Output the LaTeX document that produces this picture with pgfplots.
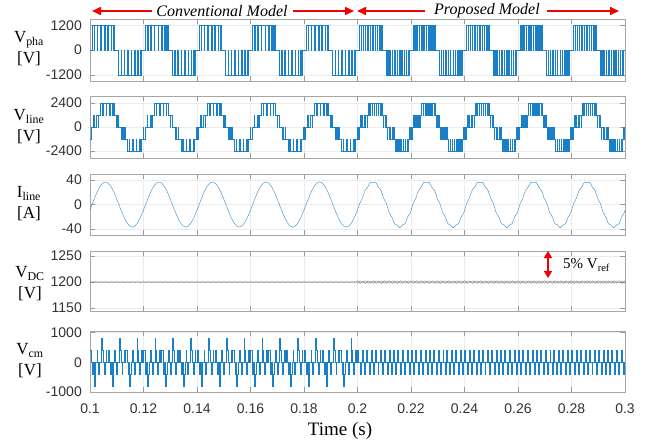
\documentclass[border=0pt]{standalone}
\usepackage{fontspec}
\setmainfont{Liberation Serif}
\newfontfamily\ticksf{Liberation Sans}
\usepackage{pgfplots}
\pgfplotsset{compat=1.18}
\usetikzlibrary{arrows.meta}
\definecolor{mblue}{rgb}{0.1,0.5,0.78}
\definecolor{morange}{rgb}{0.88,0.45,0.3}
\definecolor{arrred}{RGB}{240,0,0}

\pgfplotsset{panel/.style={
    scale only axis, width=535pt, anchor=north west,
    xmin=0.1, xmax=0.3,
    xtick={0.1,0.12,0.14,0.16,0.18,0.2,0.22,0.24,0.26,0.28,0.3},
    xticklabels={},
    grid=major, major grid style={black!8, line width=0.5pt},
    axis line style={black!35, line width=0.6pt},
    tick style={black!40, line width=0.6pt},
    tick align=inside, major tick length=5pt,
    yticklabel style={font=\ticksf\fontsize{14}{14}\selectfont, text=black!80, inner sep=0pt, xshift=-8pt},
    xticklabel style={font=\ticksf\fontsize{14}{14}\selectfont, text=black!80, inner sep=0pt, yshift=-12pt},
    every axis plot/.append style={line width=0.35pt},
}}

\begin{document}
\begin{tikzpicture}
\useasboundingbox (0,0) rectangle (649pt,-445pt);

% ---------- V_pha ----------
\begin{axis}[panel, at={(90pt,-19pt)}, height=62pt,
    ymin=-1500, ymax=1500, ytick={-1200,0,1200}, yticklabels={-1200,0,1200}]
\addplot[mblue, const plot] coordinates {
(0.1000,0)
(0.1007,1200) (0.1015,0) (0.1017,1200) (0.1026,0) (0.1028,1200) (0.1039,0) (0.1041,1200) (0.1053,0) (0.1055,1200) (0.1066,0) (0.1068,1200) (0.1078,0) (0.1080,1200) (0.1086,0) (0.1088,1200) (0.1092,0)
(0.1107,-1200) (0.1115,0) (0.1117,-1200) (0.1126,0) (0.1128,-1200) (0.1139,0) (0.1141,-1200) (0.1153,0) (0.1155,-1200) (0.1166,0) (0.1168,-1200) (0.1178,0) (0.1180,-1200) (0.1186,0) (0.1188,-1200) (0.1192,0)
(0.1207,1200) (0.1215,0) (0.1217,1200) (0.1226,0) (0.1228,1200) (0.1239,0) (0.1241,1200) (0.1253,0) (0.1255,1200) (0.1266,0) (0.1268,1200) (0.1278,0) (0.1280,1200) (0.1286,0) (0.1288,1200) (0.1292,0)
(0.1307,-1200) (0.1315,0) (0.1317,-1200) (0.1326,0) (0.1328,-1200) (0.1339,0) (0.1341,-1200) (0.1353,0) (0.1355,-1200) (0.1366,0) (0.1368,-1200) (0.1378,0) (0.1380,-1200) (0.1386,0) (0.1388,-1200) (0.1392,0)
(0.1407,1200) (0.1415,0) (0.1417,1200) (0.1426,0) (0.1428,1200) (0.1439,0) (0.1441,1200) (0.1453,0) (0.1455,1200) (0.1466,0) (0.1468,1200) (0.1478,0) (0.1480,1200) (0.1486,0) (0.1488,1200) (0.1492,0)
(0.1507,-1200) (0.1515,0) (0.1517,-1200) (0.1526,0) (0.1528,-1200) (0.1539,0) (0.1541,-1200) (0.1553,0) (0.1555,-1200) (0.1566,0) (0.1568,-1200) (0.1578,0) (0.1580,-1200) (0.1586,0) (0.1588,-1200) (0.1592,0)
(0.1607,1200) (0.1615,0) (0.1617,1200) (0.1626,0) (0.1628,1200) (0.1639,0) (0.1641,1200) (0.1653,0) (0.1655,1200) (0.1666,0) (0.1668,1200) (0.1678,0) (0.1680,1200) (0.1686,0) (0.1688,1200) (0.1692,0)
(0.1707,-1200) (0.1715,0) (0.1717,-1200) (0.1726,0) (0.1728,-1200) (0.1739,0) (0.1741,-1200) (0.1753,0) (0.1755,-1200) (0.1766,0) (0.1768,-1200) (0.1778,0) (0.1780,-1200) (0.1786,0) (0.1788,-1200) (0.1792,0)
(0.1807,1200) (0.1815,0) (0.1817,1200) (0.1826,0) (0.1828,1200) (0.1839,0) (0.1841,1200) (0.1853,0) (0.1855,1200) (0.1866,0) (0.1868,1200) (0.1878,0) (0.1880,1200) (0.1886,0) (0.1888,1200) (0.1892,0)
(0.1907,-1200) (0.1915,0) (0.1917,-1200) (0.1926,0) (0.1928,-1200) (0.1939,0) (0.1941,-1200) (0.1953,0) (0.1955,-1200) (0.1966,0) (0.1968,-1200) (0.1978,0) (0.1980,-1200) (0.1986,0) (0.1988,-1200) (0.1992,0)
(0.2007,1200) (0.2012,0) (0.2014,1200) (0.2020,0) (0.2022,1200) (0.2029,0) (0.2030,1200) (0.2038,0) (0.2040,1200) (0.2047,0) (0.2048,1200) (0.2056,0) (0.2058,1200) (0.2065,0) (0.2067,1200) (0.2073,0) (0.2075,1200) (0.2081,0) (0.2083,1200) (0.2088,0) (0.2089,1200) (0.2092,0)
(0.2107,-1200) (0.2112,0) (0.2114,-1200) (0.2120,0) (0.2122,-1200) (0.2129,0) (0.2130,-1200) (0.2138,0) (0.2140,-1200) (0.2147,0) (0.2148,-1200) (0.2156,0) (0.2158,-1200) (0.2165,0) (0.2167,-1200) (0.2173,0) (0.2175,-1200) (0.2181,0) (0.2183,-1200) (0.2188,0) (0.2189,-1200) (0.2192,0)
(0.2207,1200) (0.2212,0) (0.2214,1200) (0.2220,0) (0.2222,1200) (0.2229,0) (0.2230,1200) (0.2238,0) (0.2240,1200) (0.2247,0) (0.2248,1200) (0.2256,0) (0.2258,1200) (0.2265,0) (0.2267,1200) (0.2273,0) (0.2275,1200) (0.2281,0) (0.2283,1200) (0.2288,0) (0.2289,1200) (0.2292,0)
(0.2307,-1200) (0.2312,0) (0.2314,-1200) (0.2320,0) (0.2322,-1200) (0.2329,0) (0.2330,-1200) (0.2338,0) (0.2340,-1200) (0.2347,0) (0.2348,-1200) (0.2356,0) (0.2358,-1200) (0.2365,0) (0.2367,-1200) (0.2373,0) (0.2375,-1200) (0.2381,0) (0.2383,-1200) (0.2388,0) (0.2389,-1200) (0.2392,0)
(0.2407,1200) (0.2412,0) (0.2414,1200) (0.2420,0) (0.2422,1200) (0.2429,0) (0.2430,1200) (0.2438,0) (0.2440,1200) (0.2447,0) (0.2448,1200) (0.2456,0) (0.2458,1200) (0.2465,0) (0.2467,1200) (0.2473,0) (0.2475,1200) (0.2481,0) (0.2483,1200) (0.2488,0) (0.2489,1200) (0.2492,0)
(0.2507,-1200) (0.2512,0) (0.2514,-1200) (0.2520,0) (0.2522,-1200) (0.2529,0) (0.2530,-1200) (0.2538,0) (0.2540,-1200) (0.2547,0) (0.2548,-1200) (0.2556,0) (0.2558,-1200) (0.2565,0) (0.2567,-1200) (0.2573,0) (0.2575,-1200) (0.2581,0) (0.2583,-1200) (0.2588,0) (0.2589,-1200) (0.2592,0)
(0.2607,1200) (0.2612,0) (0.2614,1200) (0.2620,0) (0.2622,1200) (0.2629,0) (0.2630,1200) (0.2638,0) (0.2640,1200) (0.2647,0) (0.2648,1200) (0.2656,0) (0.2658,1200) (0.2665,0) (0.2667,1200) (0.2673,0) (0.2675,1200) (0.2681,0) (0.2683,1200) (0.2688,0) (0.2689,1200) (0.2692,0)
(0.2707,-1200) (0.2712,0) (0.2714,-1200) (0.2720,0) (0.2722,-1200) (0.2729,0) (0.2730,-1200) (0.2738,0) (0.2740,-1200) (0.2747,0) (0.2748,-1200) (0.2756,0) (0.2758,-1200) (0.2765,0) (0.2767,-1200) (0.2773,0) (0.2775,-1200) (0.2781,0) (0.2783,-1200) (0.2788,0) (0.2789,-1200) (0.2792,0)
(0.2807,1200) (0.2812,0) (0.2814,1200) (0.2820,0) (0.2822,1200) (0.2829,0) (0.2830,1200) (0.2838,0) (0.2840,1200) (0.2847,0) (0.2848,1200) (0.2856,0) (0.2858,1200) (0.2865,0) (0.2867,1200) (0.2873,0) (0.2875,1200) (0.2881,0) (0.2883,1200) (0.2888,0) (0.2889,1200) (0.2892,0)
(0.2907,-1200) (0.2912,0) (0.2914,-1200) (0.2920,0) (0.2922,-1200) (0.2929,0) (0.2930,-1200) (0.2938,0) (0.2940,-1200) (0.2947,0) (0.2948,-1200) (0.2956,0) (0.2958,-1200) (0.2965,0) (0.2967,-1200) (0.2973,0) (0.2975,-1200) (0.2981,0) (0.2983,-1200) (0.2988,0) (0.2989,-1200) (0.2992,0)
(0.3000,0)
};
\end{axis}

% ---------- V_line ----------
\begin{axis}[panel, at={(90pt,-96pt)}, height=62pt,
    ymin=-3100, ymax=3100, ytick={-2400,0,2400}, yticklabels={-2400,0,2400}]
\addplot[mblue, const plot] coordinates {
(0.1000,-1200) (0.1006,0) (0.1012,1200) (0.1014,0) (0.1024,1200) (0.1029,0) (0.1031,1200) (0.1039,2400) (0.1046,1200) (0.1048,2400) (0.1059,1200) (0.1061,2400) (0.1072,1200) (0.1074,2400) (0.1084,1200) (0.1086,2400) (0.1091,1200) (0.1098,0) (0.1100,1200) (0.1106,0) (0.1117,-1200) (0.1119,0) (0.1124,-1200) (0.1129,0) (0.1131,-1200) (0.1139,-2400) (0.1146,-1200) (0.1148,-2400) (0.1159,-1200) (0.1161,-2400) (0.1172,-1200) (0.1174,-2400) (0.1184,-1200) (0.1186,-2400) (0.1191,-1200) (0.1198,0)
(0.1200,-1200) (0.1206,0) (0.1212,1200) (0.1214,0) (0.1224,1200) (0.1229,0) (0.1231,1200) (0.1239,2400) (0.1246,1200) (0.1248,2400) (0.1259,1200) (0.1261,2400) (0.1272,1200) (0.1274,2400) (0.1284,1200) (0.1286,2400) (0.1291,1200) (0.1298,0) (0.1300,1200) (0.1306,0) (0.1317,-1200) (0.1319,0) (0.1324,-1200) (0.1329,0) (0.1331,-1200) (0.1339,-2400) (0.1346,-1200) (0.1348,-2400) (0.1359,-1200) (0.1361,-2400) (0.1372,-1200) (0.1374,-2400) (0.1384,-1200) (0.1386,-2400) (0.1391,-1200) (0.1398,0)
(0.1400,-1200) (0.1406,0) (0.1412,1200) (0.1414,0) (0.1424,1200) (0.1429,0) (0.1431,1200) (0.1439,2400) (0.1446,1200) (0.1448,2400) (0.1459,1200) (0.1461,2400) (0.1472,1200) (0.1474,2400) (0.1484,1200) (0.1486,2400) (0.1491,1200) (0.1498,0) (0.1500,1200) (0.1506,0) (0.1517,-1200) (0.1519,0) (0.1524,-1200) (0.1529,0) (0.1531,-1200) (0.1539,-2400) (0.1546,-1200) (0.1548,-2400) (0.1559,-1200) (0.1561,-2400) (0.1572,-1200) (0.1574,-2400) (0.1584,-1200) (0.1586,-2400) (0.1591,-1200) (0.1598,0)
(0.1600,-1200) (0.1606,0) (0.1612,1200) (0.1614,0) (0.1624,1200) (0.1629,0) (0.1631,1200) (0.1639,2400) (0.1646,1200) (0.1648,2400) (0.1659,1200) (0.1661,2400) (0.1672,1200) (0.1674,2400) (0.1684,1200) (0.1686,2400) (0.1691,1200) (0.1698,0) (0.1700,1200) (0.1706,0) (0.1717,-1200) (0.1719,0) (0.1724,-1200) (0.1729,0) (0.1731,-1200) (0.1739,-2400) (0.1746,-1200) (0.1748,-2400) (0.1759,-1200) (0.1761,-2400) (0.1772,-1200) (0.1774,-2400) (0.1784,-1200) (0.1786,-2400) (0.1791,-1200) (0.1798,0)
(0.1800,-1200) (0.1806,0) (0.1812,1200) (0.1814,0) (0.1824,1200) (0.1829,0) (0.1831,1200) (0.1839,2400) (0.1846,1200) (0.1848,2400) (0.1859,1200) (0.1861,2400) (0.1872,1200) (0.1874,2400) (0.1884,1200) (0.1886,2400) (0.1891,1200) (0.1898,0) (0.1900,1200) (0.1906,0) (0.1917,-1200) (0.1919,0) (0.1924,-1200) (0.1929,0) (0.1931,-1200) (0.1939,-2400) (0.1946,-1200) (0.1948,-2400) (0.1959,-1200) (0.1961,-2400) (0.1972,-1200) (0.1974,-2400) (0.1984,-1200) (0.1986,-2400) (0.1991,-1200) (0.1998,0)
(0.2000,-1200) (0.2002,0) (0.2004,-1200) (0.2006,0) (0.2010,1200) (0.2012,0) (0.2017,1200) (0.2019,0) (0.2024,1200) (0.2028,0) (0.2030,1200) (0.2035,0) (0.2036,1200) (0.2039,2400) (0.2045,1200) (0.2047,2400) (0.2053,1200) (0.2055,2400) (0.2061,1200) (0.2063,2400) (0.2069,1200) (0.2071,2400) (0.2077,1200) (0.2079,2400) (0.2085,1200) (0.2087,2400) (0.2091,1200) (0.2095,0) (0.2097,1200) (0.2102,0) (0.2104,1200) (0.2106,0) (0.2110,-1200) (0.2112,0) (0.2117,-1200) (0.2119,0) (0.2124,-1200) (0.2128,0) (0.2130,-1200) (0.2135,0) (0.2136,-1200) (0.2139,-2400) (0.2145,-1200) (0.2147,-2400) (0.2153,-1200) (0.2155,-2400) (0.2161,-1200) (0.2163,-2400) (0.2169,-1200) (0.2171,-2400) (0.2177,-1200) (0.2179,-2400) (0.2185,-1200) (0.2187,-2400) (0.2191,-1200) (0.2195,0) (0.2197,-1200)
(0.2200,-1200) (0.2202,0) (0.2204,-1200) (0.2206,0) (0.2210,1200) (0.2212,0) (0.2217,1200) (0.2219,0) (0.2224,1200) (0.2228,0) (0.2230,1200) (0.2235,0) (0.2236,1200) (0.2239,2400) (0.2245,1200) (0.2247,2400) (0.2253,1200) (0.2255,2400) (0.2261,1200) (0.2263,2400) (0.2269,1200) (0.2271,2400) (0.2277,1200) (0.2279,2400) (0.2285,1200) (0.2287,2400) (0.2291,1200) (0.2295,0) (0.2297,1200) (0.2302,0) (0.2304,1200) (0.2306,0) (0.2310,-1200) (0.2312,0) (0.2317,-1200) (0.2319,0) (0.2324,-1200) (0.2328,0) (0.2330,-1200) (0.2335,0) (0.2336,-1200) (0.2339,-2400) (0.2345,-1200) (0.2347,-2400) (0.2353,-1200) (0.2355,-2400) (0.2361,-1200) (0.2363,-2400) (0.2369,-1200) (0.2371,-2400) (0.2377,-1200) (0.2379,-2400) (0.2385,-1200) (0.2387,-2400) (0.2391,-1200) (0.2395,0) (0.2397,-1200)
(0.2400,-1200) (0.2402,0) (0.2404,-1200) (0.2406,0) (0.2410,1200) (0.2412,0) (0.2417,1200) (0.2419,0) (0.2424,1200) (0.2428,0) (0.2430,1200) (0.2435,0) (0.2436,1200) (0.2439,2400) (0.2445,1200) (0.2447,2400) (0.2453,1200) (0.2455,2400) (0.2461,1200) (0.2463,2400) (0.2469,1200) (0.2471,2400) (0.2477,1200) (0.2479,2400) (0.2485,1200) (0.2487,2400) (0.2491,1200) (0.2495,0) (0.2497,1200) (0.2502,0) (0.2504,1200) (0.2506,0) (0.2510,-1200) (0.2512,0) (0.2517,-1200) (0.2519,0) (0.2524,-1200) (0.2528,0) (0.2530,-1200) (0.2535,0) (0.2536,-1200) (0.2539,-2400) (0.2545,-1200) (0.2547,-2400) (0.2553,-1200) (0.2555,-2400) (0.2561,-1200) (0.2563,-2400) (0.2569,-1200) (0.2571,-2400) (0.2577,-1200) (0.2579,-2400) (0.2585,-1200) (0.2587,-2400) (0.2591,-1200) (0.2595,0) (0.2597,-1200)
(0.2600,-1200) (0.2602,0) (0.2604,-1200) (0.2606,0) (0.2610,1200) (0.2612,0) (0.2617,1200) (0.2619,0) (0.2624,1200) (0.2628,0) (0.2630,1200) (0.2635,0) (0.2636,1200) (0.2639,2400) (0.2645,1200) (0.2647,2400) (0.2653,1200) (0.2655,2400) (0.2661,1200) (0.2663,2400) (0.2669,1200) (0.2671,2400) (0.2677,1200) (0.2679,2400) (0.2685,1200) (0.2687,2400) (0.2691,1200) (0.2695,0) (0.2697,1200) (0.2702,0) (0.2704,1200) (0.2706,0) (0.2710,-1200) (0.2712,0) (0.2717,-1200) (0.2719,0) (0.2724,-1200) (0.2728,0) (0.2730,-1200) (0.2735,0) (0.2736,-1200) (0.2739,-2400) (0.2745,-1200) (0.2747,-2400) (0.2753,-1200) (0.2755,-2400) (0.2761,-1200) (0.2763,-2400) (0.2769,-1200) (0.2771,-2400) (0.2777,-1200) (0.2779,-2400) (0.2785,-1200) (0.2787,-2400) (0.2791,-1200) (0.2795,0) (0.2797,-1200)
(0.2800,-1200) (0.2802,0) (0.2804,-1200) (0.2806,0) (0.2810,1200) (0.2812,0) (0.2817,1200) (0.2819,0) (0.2824,1200) (0.2828,0) (0.2830,1200) (0.2835,0) (0.2836,1200) (0.2839,2400) (0.2845,1200) (0.2847,2400) (0.2853,1200) (0.2855,2400) (0.2861,1200) (0.2863,2400) (0.2869,1200) (0.2871,2400) (0.2877,1200) (0.2879,2400) (0.2885,1200) (0.2887,2400) (0.2891,1200) (0.2895,0) (0.2897,1200) (0.2902,0) (0.2904,1200) (0.2906,0) (0.2910,-1200) (0.2912,0) (0.2917,-1200) (0.2919,0) (0.2924,-1200) (0.2928,0) (0.2930,-1200) (0.2935,0) (0.2936,-1200) (0.2939,-2400) (0.2945,-1200) (0.2947,-2400) (0.2953,-1200) (0.2955,-2400) (0.2961,-1200) (0.2963,-2400) (0.2969,-1200) (0.2971,-2400) (0.2977,-1200) (0.2979,-2400) (0.2985,-1200) (0.2987,-2400) (0.2991,-1200) (0.2995,0) (0.2997,-1200)
(0.3000,-1200)
};
\end{axis}

% ---------- I_line ----------
\begin{axis}[panel, at={(90pt,-174pt)}, height=61pt,
    ymin=-50, ymax=50, ytick={-40,0,40}, yticklabels={-40,0,40}]
\addplot[mblue] coordinates {
(0.1000,-9.2)
(0.1008,0) (0.1018,11.4) (0.1028,21.7) (0.1038,29.9) (0.1048,35.2) (0.1058,37) (0.1068,35.2) (0.1078,29.9) (0.1088,21.7) (0.1098,11.4) (0.1108,0) (0.1118,-11.4) (0.1128,-21.7) (0.1138,-29.9) (0.1148,-35.2) (0.1158,-37) (0.1168,-35.2) (0.1178,-29.9) (0.1188,-21.7) (0.1198,-11.4)
(0.1208,0) (0.1218,11.4) (0.1228,21.7) (0.1238,29.9) (0.1248,35.2) (0.1258,37) (0.1268,35.2) (0.1278,29.9) (0.1288,21.7) (0.1298,11.4) (0.1308,0) (0.1318,-11.4) (0.1328,-21.7) (0.1338,-29.9) (0.1348,-35.2) (0.1358,-37) (0.1368,-35.2) (0.1378,-29.9) (0.1388,-21.7) (0.1398,-11.4)
(0.1408,0) (0.1418,11.4) (0.1428,21.7) (0.1438,29.9) (0.1448,35.2) (0.1458,37) (0.1468,35.2) (0.1478,29.9) (0.1488,21.7) (0.1498,11.4) (0.1508,0) (0.1518,-11.4) (0.1528,-21.7) (0.1538,-29.9) (0.1548,-35.2) (0.1558,-37) (0.1568,-35.2) (0.1578,-29.9) (0.1588,-21.7) (0.1598,-11.4)
(0.1608,0) (0.1618,11.4) (0.1628,21.7) (0.1638,29.9) (0.1648,35.2) (0.1658,37) (0.1668,35.2) (0.1678,29.9) (0.1688,21.7) (0.1698,11.4) (0.1708,0) (0.1718,-11.4) (0.1728,-21.7) (0.1738,-29.9) (0.1748,-35.2) (0.1758,-37) (0.1768,-35.2) (0.1778,-29.9) (0.1788,-21.7) (0.1798,-11.4)
(0.1808,0) (0.1818,11.4) (0.1828,21.7) (0.1838,29.9) (0.1848,35.2) (0.1858,37) (0.1868,35.2) (0.1878,29.9) (0.1888,21.7) (0.1898,11.4) (0.1908,0) (0.1918,-11.4) (0.1928,-21.7) (0.1938,-29.9) (0.1948,-35.2) (0.1958,-37) (0.1968,-35.2) (0.1978,-29.9) (0.1988,-21.7) (0.1998,-11.4)
(0.2008,1.5) (0.2018,9.9) (0.2028,23.2) (0.2038,28.4) (0.2048,36.7) (0.2058,35.5) (0.2068,36.7) (0.2078,28.4) (0.2088,23.2) (0.2098,9.9) (0.2108,1.5) (0.2118,-12.9) (0.2128,-20.2) (0.2138,-31.4) (0.2148,-33.7) (0.2158,-38.5) (0.2168,-33.7) (0.2178,-31.4) (0.2188,-20.2) (0.2198,-12.9)
(0.2208,1.5) (0.2218,9.9) (0.2228,23.2) (0.2238,28.4) (0.2248,36.7) (0.2258,35.5) (0.2268,36.7) (0.2278,28.4) (0.2288,23.2) (0.2298,9.9) (0.2308,1.5) (0.2318,-12.9) (0.2328,-20.2) (0.2338,-31.4) (0.2348,-33.7) (0.2358,-38.5) (0.2368,-33.7) (0.2378,-31.4) (0.2388,-20.2) (0.2398,-12.9)
(0.2408,1.5) (0.2418,9.9) (0.2428,23.2) (0.2438,28.4) (0.2448,36.7) (0.2458,35.5) (0.2468,36.7) (0.2478,28.4) (0.2488,23.2) (0.2498,9.9) (0.2508,1.5) (0.2518,-12.9) (0.2528,-20.2) (0.2538,-31.4) (0.2548,-33.7) (0.2558,-38.5) (0.2568,-33.7) (0.2578,-31.4) (0.2588,-20.2) (0.2598,-12.9)
(0.2608,1.5) (0.2618,9.9) (0.2628,23.2) (0.2638,28.4) (0.2648,36.7) (0.2658,35.5) (0.2668,36.7) (0.2678,28.4) (0.2688,23.2) (0.2698,9.9) (0.2708,1.5) (0.2718,-12.9) (0.2728,-20.2) (0.2738,-31.4) (0.2748,-33.7) (0.2758,-38.5) (0.2768,-33.7) (0.2778,-31.4) (0.2788,-20.2) (0.2798,-12.9)
(0.2808,1.5) (0.2818,9.9) (0.2828,23.2) (0.2838,28.4) (0.2848,36.7) (0.2858,35.5) (0.2868,36.7) (0.2878,28.4) (0.2888,23.2) (0.2898,9.9) (0.2908,1.5) (0.2918,-12.9) (0.2928,-20.2) (0.2938,-31.4) (0.2948,-33.7) (0.2958,-38.5) (0.2968,-33.7) (0.2978,-31.4) (0.2988,-20.2) (0.2998,-12.9)
(0.3000,-9.2)
};
\end{axis}

% ---------- V_DC ----------
\begin{axis}[panel, at={(90pt,-251pt)}, height=60pt,
    ymin=1144, ymax=1260, ytick={1150,1200,1250}, yticklabels={1150,1200,1250}]
\addplot[mblue] coordinates {
(0.100,1200.7) (0.101,1199.3) (0.102,1200.7) (0.103,1199.3) (0.104,1200.7) (0.105,1199.3) (0.106,1200.7) (0.107,1199.3) (0.108,1200.7) (0.109,1199.3)
(0.110,1200.7) (0.111,1199.3) (0.112,1200.7) (0.113,1199.3) (0.114,1200.7) (0.115,1199.3) (0.116,1200.7) (0.117,1199.3) (0.118,1200.7) (0.119,1199.3)
(0.120,1200.7) (0.121,1199.3) (0.122,1200.7) (0.123,1199.3) (0.124,1200.7) (0.125,1199.3) (0.126,1200.7) (0.127,1199.3) (0.128,1200.7) (0.129,1199.3)
(0.130,1200.7) (0.131,1199.3) (0.132,1200.7) (0.133,1199.3) (0.134,1200.7) (0.135,1199.3) (0.136,1200.7) (0.137,1199.3) (0.138,1200.7) (0.139,1199.3)
(0.140,1200.7) (0.141,1199.3) (0.142,1200.7) (0.143,1199.3) (0.144,1200.7) (0.145,1199.3) (0.146,1200.7) (0.147,1199.3) (0.148,1200.7) (0.149,1199.3)
(0.150,1200.7) (0.151,1199.3) (0.152,1200.7) (0.153,1199.3) (0.154,1200.7) (0.155,1199.3) (0.156,1200.7) (0.157,1199.3) (0.158,1200.7) (0.159,1199.3)
(0.160,1200.7) (0.161,1199.3) (0.162,1200.7) (0.163,1199.3) (0.164,1200.7) (0.165,1199.3) (0.166,1200.7) (0.167,1199.3) (0.168,1200.7) (0.169,1199.3)
(0.170,1200.7) (0.171,1199.3) (0.172,1200.7) (0.173,1199.3) (0.174,1200.7) (0.175,1199.3) (0.176,1200.7) (0.177,1199.3) (0.178,1200.7) (0.179,1199.3)
(0.180,1200.7) (0.181,1199.3) (0.182,1200.7) (0.183,1199.3) (0.184,1200.7) (0.185,1199.3) (0.186,1200.7) (0.187,1199.3) (0.188,1200.7) (0.189,1199.3)
(0.190,1200.7) (0.191,1199.3) (0.192,1200.7) (0.193,1199.3) (0.194,1200.7) (0.195,1199.3) (0.196,1200.7) (0.197,1199.3) (0.198,1200.7) (0.199,1199.3)
(0.200,1202.5) (0.201,1197.5) (0.202,1202.5) (0.203,1197.5) (0.204,1202.5) (0.205,1197.5) (0.206,1202.5) (0.207,1197.5) (0.208,1202.5) (0.209,1197.5)
(0.210,1202.5) (0.211,1197.5) (0.212,1202.5) (0.213,1197.5) (0.214,1202.5) (0.215,1197.5) (0.216,1202.5) (0.217,1197.5) (0.218,1202.5) (0.219,1197.5)
(0.220,1202.5) (0.221,1197.5) (0.222,1202.5) (0.223,1197.5) (0.224,1202.5) (0.225,1197.5) (0.226,1202.5) (0.227,1197.5) (0.228,1202.5) (0.229,1197.5)
(0.230,1202.5) (0.231,1197.5) (0.232,1202.5) (0.233,1197.5) (0.234,1202.5) (0.235,1197.5) (0.236,1202.5) (0.237,1197.5) (0.238,1202.5) (0.239,1197.5)
(0.240,1202.5) (0.241,1197.5) (0.242,1202.5) (0.243,1197.5) (0.244,1202.5) (0.245,1197.5) (0.246,1202.5) (0.247,1197.5) (0.248,1202.5) (0.249,1197.5)
(0.250,1202.5) (0.251,1197.5) (0.252,1202.5) (0.253,1197.5) (0.254,1202.5) (0.255,1197.5) (0.256,1202.5) (0.257,1197.5) (0.258,1202.5) (0.259,1197.5)
(0.260,1202.5) (0.261,1197.5) (0.262,1202.5) (0.263,1197.5) (0.264,1202.5) (0.265,1197.5) (0.266,1202.5) (0.267,1197.5) (0.268,1202.5) (0.269,1197.5)
(0.270,1202.5) (0.271,1197.5) (0.272,1202.5) (0.273,1197.5) (0.274,1202.5) (0.275,1197.5) (0.276,1202.5) (0.277,1197.5) (0.278,1202.5) (0.279,1197.5)
(0.280,1202.5) (0.281,1197.5) (0.282,1202.5) (0.283,1197.5) (0.284,1202.5) (0.285,1197.5) (0.286,1202.5) (0.287,1197.5) (0.288,1202.5) (0.289,1197.5)
(0.290,1202.5) (0.291,1197.5) (0.292,1202.5) (0.293,1197.5) (0.294,1202.5) (0.295,1197.5) (0.296,1202.5) (0.297,1197.5) (0.298,1202.5) (0.299,1197.5)
(0.300,1202.5)
};
\addplot[morange] coordinates {
(0.100,1199.5) (0.101,1200.5) (0.102,1199.5) (0.103,1200.5) (0.104,1199.5) (0.105,1200.5) (0.106,1199.5) (0.107,1200.5) (0.108,1199.5) (0.109,1200.5)
(0.110,1199.5) (0.111,1200.5) (0.112,1199.5) (0.113,1200.5) (0.114,1199.5) (0.115,1200.5) (0.116,1199.5) (0.117,1200.5) (0.118,1199.5) (0.119,1200.5)
(0.120,1199.5) (0.121,1200.5) (0.122,1199.5) (0.123,1200.5) (0.124,1199.5) (0.125,1200.5) (0.126,1199.5) (0.127,1200.5) (0.128,1199.5) (0.129,1200.5)
(0.130,1199.5) (0.131,1200.5) (0.132,1199.5) (0.133,1200.5) (0.134,1199.5) (0.135,1200.5) (0.136,1199.5) (0.137,1200.5) (0.138,1199.5) (0.139,1200.5)
(0.140,1199.5) (0.141,1200.5) (0.142,1199.5) (0.143,1200.5) (0.144,1199.5) (0.145,1200.5) (0.146,1199.5) (0.147,1200.5) (0.148,1199.5) (0.149,1200.5)
(0.150,1199.5) (0.151,1200.5) (0.152,1199.5) (0.153,1200.5) (0.154,1199.5) (0.155,1200.5) (0.156,1199.5) (0.157,1200.5) (0.158,1199.5) (0.159,1200.5)
(0.160,1199.5) (0.161,1200.5) (0.162,1199.5) (0.163,1200.5) (0.164,1199.5) (0.165,1200.5) (0.166,1199.5) (0.167,1200.5) (0.168,1199.5) (0.169,1200.5)
(0.170,1199.5) (0.171,1200.5) (0.172,1199.5) (0.173,1200.5) (0.174,1199.5) (0.175,1200.5) (0.176,1199.5) (0.177,1200.5) (0.178,1199.5) (0.179,1200.5)
(0.180,1199.5) (0.181,1200.5) (0.182,1199.5) (0.183,1200.5) (0.184,1199.5) (0.185,1200.5) (0.186,1199.5) (0.187,1200.5) (0.188,1199.5) (0.189,1200.5)
(0.190,1199.5) (0.191,1200.5) (0.192,1199.5) (0.193,1200.5) (0.194,1199.5) (0.195,1200.5) (0.196,1199.5) (0.197,1200.5) (0.198,1199.5) (0.199,1200.5)
(0.200,1197.5) (0.201,1202.5) (0.202,1197.5) (0.203,1202.5) (0.204,1197.5) (0.205,1202.5) (0.206,1197.5) (0.207,1202.5) (0.208,1197.5) (0.209,1202.5)
(0.210,1197.5) (0.211,1202.5) (0.212,1197.5) (0.213,1202.5) (0.214,1197.5) (0.215,1202.5) (0.216,1197.5) (0.217,1202.5) (0.218,1197.5) (0.219,1202.5)
(0.220,1197.5) (0.221,1202.5) (0.222,1197.5) (0.223,1202.5) (0.224,1197.5) (0.225,1202.5) (0.226,1197.5) (0.227,1202.5) (0.228,1197.5) (0.229,1202.5)
(0.230,1197.5) (0.231,1202.5) (0.232,1197.5) (0.233,1202.5) (0.234,1197.5) (0.235,1202.5) (0.236,1197.5) (0.237,1202.5) (0.238,1197.5) (0.239,1202.5)
(0.240,1197.5) (0.241,1202.5) (0.242,1197.5) (0.243,1202.5) (0.244,1197.5) (0.245,1202.5) (0.246,1197.5) (0.247,1202.5) (0.248,1197.5) (0.249,1202.5)
(0.250,1197.5) (0.251,1202.5) (0.252,1197.5) (0.253,1202.5) (0.254,1197.5) (0.255,1202.5) (0.256,1197.5) (0.257,1202.5) (0.258,1197.5) (0.259,1202.5)
(0.260,1197.5) (0.261,1202.5) (0.262,1197.5) (0.263,1202.5) (0.264,1197.5) (0.265,1202.5) (0.266,1197.5) (0.267,1202.5) (0.268,1197.5) (0.269,1202.5)
(0.270,1197.5) (0.271,1202.5) (0.272,1197.5) (0.273,1202.5) (0.274,1197.5) (0.275,1202.5) (0.276,1197.5) (0.277,1202.5) (0.278,1197.5) (0.279,1202.5)
(0.280,1197.5) (0.281,1202.5) (0.282,1197.5) (0.283,1202.5) (0.284,1197.5) (0.285,1202.5) (0.286,1197.5) (0.287,1202.5) (0.288,1197.5) (0.289,1202.5)
(0.290,1197.5) (0.291,1202.5) (0.292,1197.5) (0.293,1202.5) (0.294,1197.5) (0.295,1202.5) (0.296,1197.5) (0.297,1202.5) (0.298,1197.5) (0.299,1202.5)
(0.300,1197.5)
};
\end{axis}

% ---------- V_cm ----------
\begin{axis}[panel, at={(90pt,-331pt)}, height=61pt,
    ymin=-1000, ymax=1050, ytick={-1000,0,1000}, yticklabels={-1000,0,1000},
    xticklabels={0.1,0.12,0.14,0.16,0.18,0.2,0.22,0.24,0.26,0.28,0.3}]
\addplot[mblue, const plot] coordinates {
(0.1000,400) (0.1005,0) (0.1008,-400) (0.1011,0) (0.1015,-800) (0.1018,-400) (0.1021,0) (0.1025,400) (0.1028,0) (0.1032,-400) (0.1035,0) (0.1042,800) (0.1045,400) (0.1048,0) (0.1052,-400) (0.1055,0) (0.1059,400) (0.1062,0)
(0.1067,400) (0.1072,0) (0.1075,-400) (0.1078,0) (0.1082,-800) (0.1085,-400) (0.1088,0) (0.1092,400) (0.1095,0) (0.1099,-400) (0.1102,0) (0.1109,800) (0.1112,400) (0.1115,0) (0.1119,-400) (0.1122,0) (0.1126,400) (0.1129,0)
(0.1133,400) (0.1138,0) (0.1141,-400) (0.1144,0) (0.1148,-800) (0.1151,-400) (0.1154,0) (0.1158,400) (0.1161,0) (0.1165,-400) (0.1168,0) (0.1175,800) (0.1178,400) (0.1181,0) (0.1185,-400) (0.1188,0) (0.1192,400) (0.1195,0)
(0.1200,400) (0.1205,0) (0.1208,-400) (0.1211,0) (0.1215,-800) (0.1218,-400) (0.1221,0) (0.1225,400) (0.1228,0) (0.1232,-400) (0.1235,0) (0.1242,800) (0.1245,400) (0.1248,0) (0.1252,-400) (0.1255,0) (0.1259,400) (0.1262,0)
(0.1267,400) (0.1272,0) (0.1275,-400) (0.1278,0) (0.1282,-800) (0.1285,-400) (0.1288,0) (0.1292,400) (0.1295,0) (0.1299,-400) (0.1302,0) (0.1309,800) (0.1312,400) (0.1315,0) (0.1319,-400) (0.1322,0) (0.1326,400) (0.1329,0)
(0.1333,400) (0.1338,0) (0.1341,-400) (0.1344,0) (0.1348,-800) (0.1351,-400) (0.1354,0) (0.1358,400) (0.1361,0) (0.1365,-400) (0.1368,0) (0.1375,800) (0.1378,400) (0.1381,0) (0.1385,-400) (0.1388,0) (0.1392,400) (0.1395,0)
(0.1400,400) (0.1405,0) (0.1408,-400) (0.1411,0) (0.1415,-800) (0.1418,-400) (0.1421,0) (0.1425,400) (0.1428,0) (0.1432,-400) (0.1435,0) (0.1442,800) (0.1445,400) (0.1448,0) (0.1452,-400) (0.1455,0) (0.1459,400) (0.1462,0)
(0.1467,400) (0.1472,0) (0.1475,-400) (0.1478,0) (0.1482,-800) (0.1485,-400) (0.1488,0) (0.1492,400) (0.1495,0) (0.1499,-400) (0.1502,0) (0.1509,800) (0.1512,400) (0.1515,0) (0.1519,-400) (0.1522,0) (0.1526,400) (0.1529,0)
(0.1533,400) (0.1538,0) (0.1541,-400) (0.1544,0) (0.1548,-800) (0.1551,-400) (0.1554,0) (0.1558,400) (0.1561,0) (0.1565,-400) (0.1568,0) (0.1575,800) (0.1578,400) (0.1581,0) (0.1585,-400) (0.1588,0) (0.1592,400) (0.1595,0)
(0.1600,400) (0.1605,0) (0.1608,-400) (0.1611,0) (0.1615,-800) (0.1618,-400) (0.1621,0) (0.1625,400) (0.1628,0) (0.1632,-400) (0.1635,0) (0.1642,800) (0.1645,400) (0.1648,0) (0.1652,-400) (0.1655,0) (0.1659,400) (0.1662,0)
(0.1667,400) (0.1672,0) (0.1675,-400) (0.1678,0) (0.1682,-800) (0.1685,-400) (0.1688,0) (0.1692,400) (0.1695,0) (0.1699,-400) (0.1702,0) (0.1709,800) (0.1712,400) (0.1715,0) (0.1719,-400) (0.1722,0) (0.1726,400) (0.1729,0)
(0.1733,400) (0.1738,0) (0.1741,-400) (0.1744,0) (0.1748,-800) (0.1751,-400) (0.1754,0) (0.1758,400) (0.1761,0) (0.1765,-400) (0.1768,0) (0.1775,800) (0.1778,400) (0.1781,0) (0.1785,-400) (0.1788,0) (0.1792,400) (0.1795,0)
(0.1800,400) (0.1805,0) (0.1808,-400) (0.1811,0) (0.1815,-800) (0.1818,-400) (0.1821,0) (0.1825,400) (0.1828,0) (0.1832,-400) (0.1835,0) (0.1842,800) (0.1845,400) (0.1848,0) (0.1852,-400) (0.1855,0) (0.1859,400) (0.1862,0)
(0.1867,400) (0.1872,0) (0.1875,-400) (0.1878,0) (0.1882,-800) (0.1885,-400) (0.1888,0) (0.1892,400) (0.1895,0) (0.1899,-400) (0.1902,0) (0.1909,800) (0.1912,400) (0.1915,0) (0.1919,-400) (0.1922,0) (0.1926,400) (0.1929,0)
(0.1933,400) (0.1938,0) (0.1941,-400) (0.1944,0) (0.1948,-800) (0.1951,-400) (0.1954,0) (0.1958,400) (0.1961,0) (0.1965,-400) (0.1968,0) (0.1975,800) (0.1978,400) (0.1981,0) (0.1985,-400) (0.1988,0) (0.1992,400) (0.1995,0)
(0.2000,400) (0.2004,0) (0.2009,-400) (0.2012,0) (0.2017,400) (0.2020,0) (0.2026,-400) (0.2029,0) (0.2034,400) (0.2037,0) (0.2043,-400) (0.2046,0) (0.2052,400) (0.2055,0) (0.2060,-400) (0.2063,0)
(0.2067,400) (0.2071,0) (0.2076,-400) (0.2079,0) (0.2084,400) (0.2087,0) (0.2093,-400) (0.2096,0) (0.2101,400) (0.2104,0) (0.2110,-400) (0.2113,0) (0.2119,400) (0.2122,0) (0.2127,-400) (0.2130,0)
(0.2133,400) (0.2137,0) (0.2142,-400) (0.2145,0) (0.2150,400) (0.2153,0) (0.2159,-400) (0.2162,0) (0.2167,400) (0.2170,0) (0.2176,-400) (0.2179,0) (0.2185,400) (0.2188,0) (0.2193,-400) (0.2196,0)
(0.2200,400) (0.2204,0) (0.2209,-400) (0.2212,0) (0.2217,400) (0.2220,0) (0.2226,-400) (0.2229,0) (0.2234,400) (0.2237,0) (0.2243,-400) (0.2246,0) (0.2252,400) (0.2255,0) (0.2260,-400) (0.2263,0)
(0.2267,400) (0.2271,0) (0.2276,-400) (0.2279,0) (0.2284,400) (0.2287,0) (0.2293,-400) (0.2296,0) (0.2301,400) (0.2304,0) (0.2310,-400) (0.2313,0) (0.2319,400) (0.2322,0) (0.2327,-400) (0.2330,0)
(0.2333,400) (0.2337,0) (0.2342,-400) (0.2345,0) (0.2350,400) (0.2353,0) (0.2359,-400) (0.2362,0) (0.2367,400) (0.2370,0) (0.2376,-400) (0.2379,0) (0.2385,400) (0.2388,0) (0.2393,-400) (0.2396,0)
(0.2400,400) (0.2404,0) (0.2409,-400) (0.2412,0) (0.2417,400) (0.2420,0) (0.2426,-400) (0.2429,0) (0.2434,400) (0.2437,0) (0.2443,-400) (0.2446,0) (0.2452,400) (0.2455,0) (0.2460,-400) (0.2463,0)
(0.2467,400) (0.2471,0) (0.2476,-400) (0.2479,0) (0.2484,400) (0.2487,0) (0.2493,-400) (0.2496,0) (0.2501,400) (0.2504,0) (0.2510,-400) (0.2513,0) (0.2519,400) (0.2522,0) (0.2527,-400) (0.2530,0)
(0.2533,400) (0.2537,0) (0.2542,-400) (0.2545,0) (0.2550,400) (0.2553,0) (0.2559,-400) (0.2562,0) (0.2567,400) (0.2570,0) (0.2576,-400) (0.2579,0) (0.2585,400) (0.2588,0) (0.2593,-400) (0.2596,0)
(0.2600,400) (0.2604,0) (0.2609,-400) (0.2612,0) (0.2617,400) (0.2620,0) (0.2626,-400) (0.2629,0) (0.2634,400) (0.2637,0) (0.2643,-400) (0.2646,0) (0.2652,400) (0.2655,0) (0.2660,-400) (0.2663,0)
(0.2667,400) (0.2671,0) (0.2676,-400) (0.2679,0) (0.2684,400) (0.2687,0) (0.2693,-400) (0.2696,0) (0.2701,400) (0.2704,0) (0.2710,-400) (0.2713,0) (0.2719,400) (0.2722,0) (0.2727,-400) (0.2730,0)
(0.2733,400) (0.2737,0) (0.2742,-400) (0.2745,0) (0.2750,400) (0.2753,0) (0.2759,-400) (0.2762,0) (0.2767,400) (0.2770,0) (0.2776,-400) (0.2779,0) (0.2785,400) (0.2788,0) (0.2793,-400) (0.2796,0)
(0.2800,400) (0.2804,0) (0.2809,-400) (0.2812,0) (0.2817,400) (0.2820,0) (0.2826,-400) (0.2829,0) (0.2834,400) (0.2837,0) (0.2843,-400) (0.2846,0) (0.2852,400) (0.2855,0) (0.2860,-400) (0.2863,0)
(0.2867,400) (0.2871,0) (0.2876,-400) (0.2879,0) (0.2884,400) (0.2887,0) (0.2893,-400) (0.2896,0) (0.2901,400) (0.2904,0) (0.2910,-400) (0.2913,0) (0.2919,400) (0.2922,0) (0.2927,-400) (0.2930,0)
(0.2933,400) (0.2937,0) (0.2942,-400) (0.2945,0) (0.2950,400) (0.2953,0) (0.2959,-400) (0.2962,0) (0.2967,400) (0.2970,0) (0.2976,-400) (0.2979,0) (0.2985,400) (0.2988,0) (0.2993,-400) (0.2996,0)
(0.3000,0)
};
\end{axis}

% ---------- side labels ----------
\begin{scope}[every node/.style={align=center, font=\fontsize{17}{21}\selectfont, inner sep=0pt}]
\node at (29pt,-49pt)  {V\textsubscript{pha}\\{[V]}};
\node at (29pt,-127pt) {V\textsubscript{line}\\{[V]}};
\node at (29pt,-204pt) {I\textsubscript{line}\\{[A]}};
\node at (30pt,-284pt) {V\textsubscript{DC}\\{[V]}};
\node at (30pt,-361pt) {V\textsubscript{cm}\\{[V]}};
\end{scope}
\node[font=\fontsize{19}{19}\selectfont] at (340pt,-431pt) {Time (s)};

% ---------- top annotations ----------
\begin{scope}[arrred, line width=1.6pt]
\draw[-{Triangle[length=9pt,width=8pt]}] (152pt,-11pt) -- (92pt,-11pt);
\draw[-{Triangle[length=9pt,width=8pt]}] (293pt,-11pt) -- (354pt,-11pt);
\draw[-{Triangle[length=9pt,width=8pt]}] (425pt,-11pt) -- (357pt,-11pt);
\draw[-{Triangle[length=9pt,width=8pt]}] (547pt,-11pt) -- (619pt,-11pt);
\draw[{Triangle[length=7pt,width=8pt]}-{Triangle[length=7pt,width=8pt]}] (548pt,-251pt) -- (548pt,-278pt);
\end{scope}
\node[font=\itshape\fontsize{16}{16}\selectfont] at (222pt,-11pt) {Conventional Model};
\node[font=\itshape\fontsize{16}{16}\selectfont] at (487pt,-11pt) {Proposed Model};
\node[anchor=west, font=\fontsize{15}{15}\selectfont, inner sep=0pt] at (563pt,-265pt) {5\% V\textsubscript{ref}};
\end{tikzpicture}
\end{document}
